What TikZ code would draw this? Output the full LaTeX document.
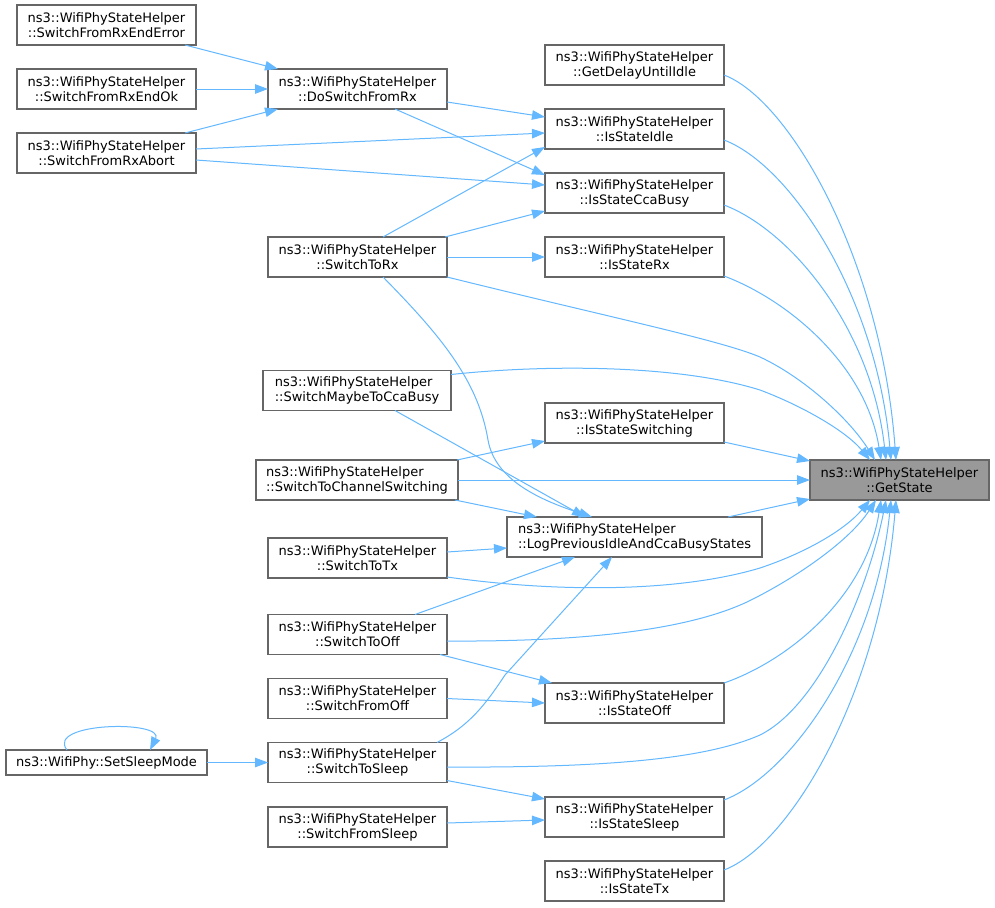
\documentclass[tikz,border=0pt]{standalone}
\usepackage{fontspec}
\setmainfont{DejaVu Sans}
\usetikzlibrary{arrows.meta,calc}
\definecolor{edgec}{HTML}{63B8FF}
\definecolor{boxc}{HTML}{666666}
\definecolor{getc}{HTML}{999999}
\tikzset{
 fn/.style={draw=boxc, line width=1.2pt, fill=white, minimum height=40pt, minimum width=179pt, inner sep=0pt, outer sep=0pt, align=center, font=\fontsize{13}{15}\selectfont, text=black},
 fnl/.style={fn, align=left},
 e/.style={draw=edgec, line width=1pt, -{Triangle[length=13pt,width=9.5pt]}},
}
\begin{document}
\begin{tikzpicture}[x=1pt,y=-1pt]
\useasboundingbox[fill=white] (0,0) rectangle (995,907);
% column 1
\node[fn] (errE) at (106.5,25) {ns3::WifiPhyStateHelper\\::SwitchFromRxEndError};
\node[fn] (okE) at (106.5,89) {ns3::WifiPhyStateHelper\\::SwitchFromRxEndOk};
\node[fn] (abort) at (106.5,153) {ns3::WifiPhyStateHelper\\::SwitchFromRxAbort};
\node[fn, minimum width=201pt, minimum height=25pt] (setSleep) at (106.5,762.5) {ns3::WifiPhy::SetSleepMode};
% column 2
\node[fn] (doRx) at (357.5,89) {ns3::WifiPhyStateHelper\\::DoSwitchFromRx};
\node[fn] (toRx) at (357.5,257) {ns3::WifiPhyStateHelper\\::SwitchToRx};
\node[fnl, minimum width=188pt] (maybe) at (357,390.5) {ns3::WifiPhyStateHelper\\::SwitchMaybeToCcaBusy};
\node[fnl, minimum width=202pt] (chan) at (357,480) {ns3::WifiPhyStateHelper\\::SwitchToChannelSwitching};
\node[fn] (toTx) at (357.5,558) {ns3::WifiPhyStateHelper\\::SwitchToTx};
\node[fn] (toOff) at (357.5,634.5) {ns3::WifiPhyStateHelper\\::SwitchToOff};
\node[fn] (fromOff) at (357.5,698.5) {ns3::WifiPhyStateHelper\\::SwitchFromOff};
\node[fn] (toSleep) at (357.5,762.5) {ns3::WifiPhyStateHelper\\::SwitchToSleep};
\node[fn] (fromSleep) at (357.5,827) {ns3::WifiPhyStateHelper\\::SwitchFromSleep};
% column 3
\node[fn] (gdui) at (634.5,65) {ns3::WifiPhyStateHelper\\::GetDelayUntilIdle};
\node[fn] (idle) at (634.5,129) {ns3::WifiPhyStateHelper\\::IsStateIdle};
\node[fn] (cca) at (634.5,193) {ns3::WifiPhyStateHelper\\::IsStateCcaBusy};
\node[fn] (isRx) at (634.5,257) {ns3::WifiPhyStateHelper\\::IsStateRx};
\node[fn] (isSw) at (634.5,423) {ns3::WifiPhyStateHelper\\::IsStateSwitching};
\node[fnl, minimum width=255pt] (log) at (634.5,537) {ns3::WifiPhyStateHelper\\::LogPreviousIdleAndCcaBusyStates};
\node[fn] (isOff) at (634.5,703) {ns3::WifiPhyStateHelper\\::IsStateOff};
\node[fn] (isSleep) at (634.5,817) {ns3::WifiPhyStateHelper\\::IsStateSleep};
\node[fn] (isTx) at (634.5,881) {ns3::WifiPhyStateHelper\\::IsStateTx};
% target
\node[fn, fill=getc] (get) at (899.5,480) {ns3::WifiPhyStateHelper\\::GetState};

% edges among left columns
\draw[e] ($(errE.south east)+(-11,0)$) -- ($(doRx.north west)+(10,0)$);
\draw[e] (okE.east) -- (doRx.west);
\draw[e] ($(abort.north east)+(-11,0)$) -- ($(doRx.south west)+(10,0)$);
\draw[e] ($(doRx.east)+(0,13)$) -- ($(idle.west)+(0,-12)$);
\draw[e] ($(abort.east)+(0,-4)$) -- ($(idle.west)+(0,4)$);
\draw[e] ($(toRx.north)+(25.5,0)$) -- ($(idle.south west)+(0,-2)$);
\draw[e] ($(doRx.south)+(37.5,0)$) -- ($(cca.north west)+(0,2)$);
\draw[e] ($(abort.east)+(0,7)$) -- ($(cca.west)+(0,-8)$);
\draw[e] ($(toRx.north east)+(-2,0)$) -- ($(cca.south west)+(0,-2)$);
\draw[e] (toRx.east) -- (isRx.west);
\draw[e] ($(toRx.south)+(25.5,0)$) .. controls (440,335) and (478,380) .. (488,440) .. controls (495,480) and (540,500) .. ($(log.north west)+(85,0)$);
\draw[e] ($(maybe.south)+(38,0)$) -- ($(log.north west)+(78,0)$);
\draw[e] ($(chan.north east)+(-1,0)$) -- ($(isSw.south west)+(0,-2)$);
\draw[e] (chan.east) -- (get.west);
\draw[e] ($(chan.south east)+(-3,0)$) -- ($(log.north west)+(30,0)$);
\draw[e] ($(toTx.east)+(0,-6)$) -- ($(log.west)+(0,11)$);
\draw[e] ($(toOff.north)+(57.5,0)$) -- ($(log.south west)+(68,0)$);
\draw[e] ($(toSleep.north east)+(-10,0)$) .. controls (470,725) and (485,705) .. (505,675) -- ($(log.south west)+(105,0)$);
\draw[e] ($(toOff.south east)+(-7,0)$) -- ($(isOff.north west)+(7,0)$);
\draw[e] (fromOff.east) -- (isOff.west);
\draw[e] ($(toSleep.south east)+(0,-2)$) -- ($(isSleep.north west)+(0,2)$);
\draw[e] ($(fromSleep.east)+(0,-4)$) -- ($(isSleep.west)+(0,3)$);
\draw[e] (setSleep.east) -- (toSleep.west);
\draw[e] ($(setSleep.north west)+(61,0)$) .. controls ($(setSleep.north west)+(39,-28)$) and ($(setSleep.north west)+(159,-30)$) .. ($(setSleep.north west)+(144,0)$);

% edges into GetState
\draw[e] ($(isSw.south east)+(0,-1)$) -- ($(get.north west)+(0,1)$);
\draw[e] ($(log.north east)+(-34,0)$) -- ($(get.south west)+(0,-1)$);
% from above
\draw[e] ($(gdui.north east)+(0,30)$) .. controls (790,100) and (881,260) .. ($(get.north west)+(86,0)$);
\draw[e] ($(idle.north east)+(0,31)$) .. controls (790,165) and (876,294) .. ($(get.north west)+(81,0)$);
\draw[e] ($(cca.north east)+(0,32)$) .. controls (790,230) and (871,327) .. ($(get.north west)+(76,0)$);
\draw[e] ($(isRx.south east)+(0,-1)$) .. controls (788,300) and (866,365) .. ($(get.north west)+(71,0)$);
\draw[e] (toRx.south east) .. controls (600,315) and (720,340) .. (760,357) .. controls (805,378) and (850,420) .. ($(get.north west)+(65,0)$);
\draw[e] ($(maybe.north east)+(0,4)$) .. controls (550,364) and (680,365) .. (760,390) .. controls (800,405) and (845,430) .. ($(get.north west)+(60,0)$);
% from below
\draw[e] ($(toTx.south east)+(0,-1)$) .. controls (560,593) and (680,592) .. (760,568) .. controls (805,553) and (845,530) .. ($(get.south west)+(60,0)$);
\draw[e] ($(toOff.east)+(0,6.5)$) .. controls (600,642) and (700,627) .. (755,598) .. controls (800,575) and (850,540) .. ($(get.south west)+(66,0)$);
\draw[e] (isOff.north east) .. controls (790,660) and (866,596) .. ($(get.south west)+(71,0)$);
\draw[e] ($(toSleep.east)+(0,4.5)$) .. controls (620,768) and (710,757) .. (760,735) .. controls (820,705) and (868,590) .. ($(get.south west)+(76,0)$);
\draw[e] ($(isSleep.north east)+(0,3)$) .. controls (790,775) and (875,656) .. ($(get.south west)+(81,0)$);
\draw[e] ($(isTx.north east)+(0,9)$) .. controls (790,845) and (880,693) .. ($(get.south west)+(86,0)$);
\end{tikzpicture}
\end{document}
